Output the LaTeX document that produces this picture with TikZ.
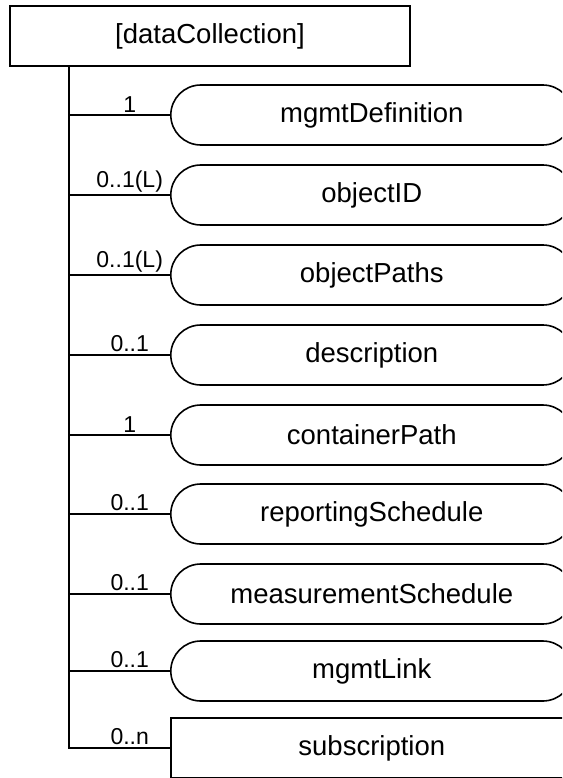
\documentclass[tikz,border=0pt]{standalone}
\usepackage{fontspec}
\setmainfont{Liberation Sans}
\usetikzlibrary{shapes.misc}
\begin{document}
\begin{tikzpicture}[x=1pt, y=-1pt, line width=1.6pt,
  elem/.style={draw, minimum width=402pt, minimum height=60pt, inner sep=0pt,
    anchor=west, font=\fontsize{27.5}{32}\selectfont},
  attr/.style={elem, rounded rectangle},
  mult/.style={above, pos=0.6, inner sep=2pt, font=\fontsize{23}{26}\selectfont}]
  \useasboundingbox (0,0) rectangle (562,778);
  \clip (0,0) rectangle (562,778);
  \node[draw, minimum width=400pt, minimum height=60pt, inner sep=0pt,
    font=\fontsize{27.5}{32}\selectfont] (dc) at (210,36) {[dataCollection]};
  \coordinate (trunk) at ([xshift=60pt]dc.south west);
  \foreach \nm/\yy/\mlt/\txt in {mdef/115/1/mgmtDefinition, oid/195/0..1(L)/objectID,
      opath/275/0..1(L)/objectPaths, descr/355/0..1/description,
      cpath/435/1/containerPath, rsched/514/0..1/reportingSchedule,
      msched/594/0..1/measurementSchedule, mlink/671/0..1/mgmtLink} {
    \node[attr] (\nm) at (170,\yy) {\txt};
    \draw (trunk |- \nm.west) -- node[mult] {\mlt} (\nm.west);
  }
  \node[elem] (sub) at (170,748) {subscription};
  \draw (trunk) |- node[mult, pos=0.8] {0..n} (sub.west);
\end{tikzpicture}
\end{document}
